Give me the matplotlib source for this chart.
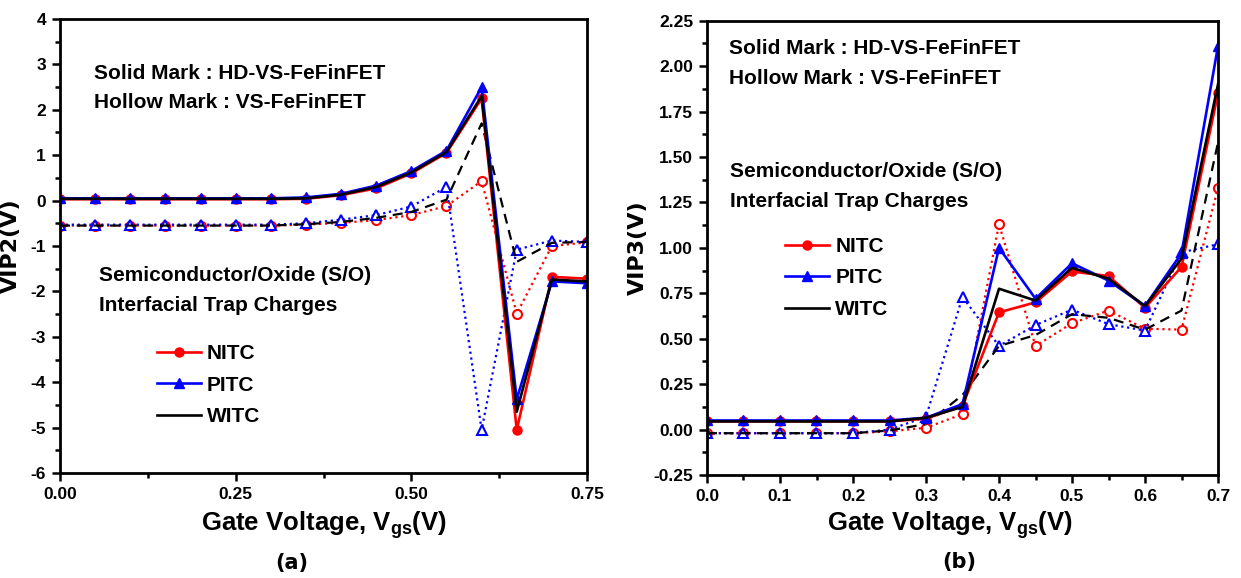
import matplotlib
matplotlib.use("Agg")
import matplotlib.pyplot as plt
from matplotlib.ticker import MultipleLocator, FormatStrFormatter

NARROW = ['Liberation Sans', 'DejaVu Sans']
plt.rcParams['font.family'] = NARROW
plt.rcParams['font.weight'] = 'bold'
plt.rcParams['mathtext.fontset'] = 'custom'
plt.rcParams['mathtext.rm'] = 'Liberation Sans:bold'
plt.rcParams['mathtext.bf'] = 'Liberation Sans:bold'

# ---------------- data: panel (a) VIP2 ----------------
xa = [0.00, 0.05, 0.10, 0.15, 0.20, 0.25, 0.30, 0.35, 0.40, 0.45, 0.50, 0.55, 0.60, 0.65, 0.70, 0.75]
a_nitc_hd = [0.03, 0.03, 0.03, 0.03, 0.03, 0.03, 0.03, 0.04, 0.12, 0.27, 0.60, 1.05, 2.25, -5.05, -1.68, -1.72]
a_pitc_hd = [0.05, 0.05, 0.05, 0.05, 0.05, 0.05, 0.05, 0.07, 0.15, 0.33, 0.65, 1.10, 2.50, -4.38, -1.78, -1.82]
a_witc_hd = [0.04, 0.04, 0.04, 0.04, 0.04, 0.04, 0.04, 0.05, 0.13, 0.30, 0.62, 1.07, 2.30, -4.65, -1.74, -1.78]
a_nitc_vs = [-0.55, -0.55, -0.55, -0.55, -0.55, -0.55, -0.55, -0.53, -0.49, -0.43, -0.32, -0.12, 0.43, -2.49, -1.00, -0.92]
a_pitc_vs = [-0.53, -0.53, -0.53, -0.53, -0.53, -0.53, -0.53, -0.50, -0.42, -0.32, -0.13, 0.30, -5.05, -1.08, -0.88, -0.91]
a_witc_vs = [-0.55, -0.55, -0.55, -0.55, -0.55, -0.55, -0.55, -0.52, -0.47, -0.38, -0.25, 0.02, 1.70, -1.35, -0.93, -0.91]

# ---------------- data: panel (b) VIP3 ----------------
xb = [0.00, 0.05, 0.10, 0.15, 0.20, 0.25, 0.30, 0.35, 0.40, 0.45, 0.50, 0.55, 0.60, 0.65, 0.70]
b_nitc_hd = [0.045, 0.045, 0.045, 0.045, 0.045, 0.045, 0.06, 0.13, 0.645, 0.70, 0.87, 0.845, 0.67, 0.895, 1.85]
b_pitc_hd = [0.05, 0.05, 0.05, 0.05, 0.05, 0.05, 0.065, 0.14, 1.00, 0.72, 0.915, 0.82, 0.68, 0.97, 2.11]
b_witc_hd = [0.045, 0.045, 0.045, 0.045, 0.045, 0.045, 0.065, 0.125, 0.775, 0.71, 0.89, 0.83, 0.68, 0.94, 1.90]
b_nitc_vs = [-0.02, -0.02, -0.02, -0.02, -0.02, -0.01, 0.01, 0.085, 1.13, 0.46, 0.585, 0.655, 0.555, 0.55, 1.33]
b_pitc_vs = [-0.02, -0.02, -0.02, -0.02, -0.02, 0.0, 0.07, 0.73, 0.46, 0.575, 0.66, 0.58, 0.545, 0.975, 1.02]
b_witc_vs = [-0.02, -0.02, -0.02, -0.02, -0.02, -0.005, 0.03, 0.19, 0.46, 0.52, 0.635, 0.615, 0.55, 0.655, 1.58]

legend_labels = ['NITC', 'PITC', 'WITC']
note1 = ['Solid Mark : HD-VS-FeFinFET', 'Hollow Mark : VS-FeFinFET']
note2 = ['Semiconductor/Oxide (S/O)', 'Interfacial Trap Charges']
xlabel = 'Gate Voltage, V$_{\\rm gs}$(V)'

RED, BLUE, BLACK = '#ff0000', '#0000ff', '#000000'

fig = plt.figure(figsize=(12.41, 5.78), dpi=100)
axa = fig.add_axes([60/1241, 1-473/578, 527/1241, 454/578])
axb = fig.add_axes([707/1241, 1-475/578, 511/1241, 454.3/578])


def draw(ax, x, hd, vs):
    (n_hd, p_hd, w_hd) = hd
    (n_vs, p_vs, w_vs) = vs
    ax.plot(x, n_vs, color=RED, ls=':', lw=1.6, marker='o', ms=6.5, mfc='white', mec=RED, mew=1.5)
    ax.plot(x, p_vs, color=BLUE, ls=':', lw=1.6, marker='^', ms=7, mfc='white', mec=BLUE, mew=1.5)
    ax.plot(x, w_vs, color=BLACK, ls=(0, (4.5, 3)), lw=1.6)
    l1, = ax.plot(x, n_hd, color=RED, ls='-', lw=1.9, marker='o', ms=6.5, mfc=RED, mec=RED)
    l2, = ax.plot(x, p_hd, color=BLUE, ls='-', lw=1.9, marker='^', ms=7, mfc=BLUE, mec=BLUE)
    l3, = ax.plot(x, w_hd, color=BLACK, ls='-', lw=1.9)
    return [l1, l2, l3]


ha = draw(axa, xa, (a_nitc_hd, a_pitc_hd, a_witc_hd), (a_nitc_vs, a_pitc_vs, a_witc_vs))
hb = draw(axb, xb, (b_nitc_hd, b_pitc_hd, b_witc_hd), (b_nitc_vs, b_pitc_vs, b_witc_vs))

for ax in (axa, axb):
    for s in ax.spines.values():
        s.set_linewidth(2.0)
    ax.tick_params(which='both', direction='out', width=1.8, top=False, right=False)
    ax.tick_params(which='major', length=6, labelsize=12.5, pad=4)
    ax.tick_params(which='minor', length=3.5)
    for lab in ax.get_xticklabels() + ax.get_yticklabels():
        lab.set_fontweight('bold')

axa.set_xlim(0, 0.75)
axa.set_ylim(-6, 4)
axa.xaxis.set_major_locator(MultipleLocator(0.25))
axa.xaxis.set_minor_locator(MultipleLocator(0.125))
axa.yaxis.set_major_locator(MultipleLocator(1))
axa.yaxis.set_minor_locator(MultipleLocator(0.5))
axa.xaxis.set_major_formatter(FormatStrFormatter('%.2f'))
axa.yaxis.set_major_formatter(FormatStrFormatter('%d'))

axb.set_xlim(0, 0.7)
axb.set_ylim(-0.25, 2.25)
axb.xaxis.set_major_locator(MultipleLocator(0.1))
axb.xaxis.set_minor_locator(MultipleLocator(0.05))
axb.yaxis.set_major_locator(MultipleLocator(0.25))
axb.yaxis.set_minor_locator(MultipleLocator(0.125))
axb.xaxis.set_major_formatter(FormatStrFormatter('%.1f'))
axb.yaxis.set_major_formatter(FormatStrFormatter('%.2f'))

# y labels
axa.set_ylabel('VIP2(V)', fontsize=16, fontweight='bold', family='DejaVu Sans')
axa.yaxis.set_label_coords(-0.074, 0.5)
axb.set_ylabel('VIP3(V)', fontsize=16, fontweight='bold', family='DejaVu Sans')
axb.yaxis.set_label_coords(-0.115, 0.5)

# x labels
axa.text(0.5, -0.115, xlabel, transform=axa.transAxes, ha='center', va='center', fontsize=18.5, fontweight='bold')
axb.text(0.476, -0.11, xlabel, transform=axb.transAxes, ha='center', va='center', fontsize=18.5, fontweight='bold')

fig.text(292/1241, 1-563/578, '(a)', ha='center', va='center', fontsize=15, fontweight='bold', family='DejaVu Sans')
fig.text(959/1241, 1-562/578, '(b)', ha='center', va='center', fontsize=15, fontweight='bold', family='DejaVu Sans')

# annotations panel (a)
tk = dict(ha='left', va='center', fontsize=15, fontweight='bold')
axa.text(0.0645, 0.881, note1[0], transform=axa.transAxes, **tk)
axa.text(0.0645, 0.815, note1[1], transform=axa.transAxes, **tk)
axa.text(0.074, 0.436, note2[0], transform=axa.transAxes, **tk)
axa.text(0.074, 0.370, note2[1], transform=axa.transAxes, **tk)
# annotations panel (b)
axb.text(0.043, 0.939, note1[0], transform=axb.transAxes, **tk)
axb.text(0.043, 0.872, note1[1], transform=axb.transAxes, **tk)
axb.text(0.045, 0.668, note2[0], transform=axb.transAxes, **tk)
axb.text(0.045, 0.602, note2[1], transform=axb.transAxes, **tk)

legkw = dict(loc='upper left', frameon=False, handlelength=2.1, handletextpad=0.3,
             labelspacing=0.6, borderaxespad=0, borderpad=0,
             prop={'family': NARROW, 'weight': 'bold', 'size': 15})
axa.legend(ha, legend_labels, bbox_to_anchor=(0.184, 0.284), **legkw)
axb.legend(hb, legend_labels, bbox_to_anchor=(0.153, 0.524), **legkw)

fig.savefig('out.png', dpi=100)
